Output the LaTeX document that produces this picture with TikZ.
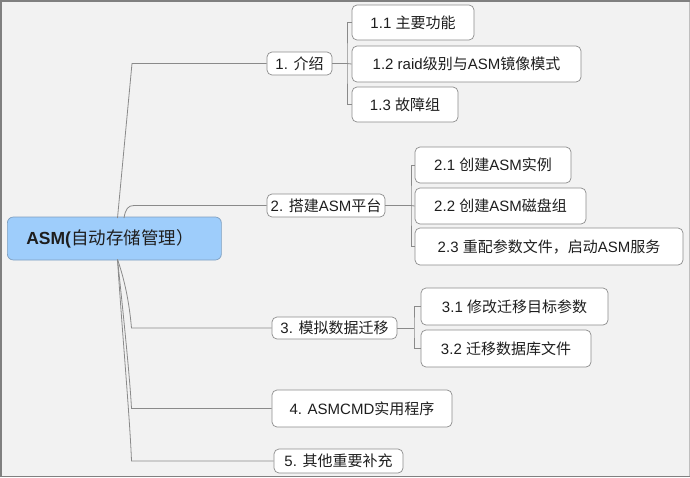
\documentclass[tikz,border=0pt]{standalone}
\usepackage{fontspec}
\setmainfont{Liberation Sans}
\newfontfamily\cjkfont{Noto Sans CJK SC}
\newcommand{\zhs}[1]{{\cjkfont #1}}
\definecolor{bgc}{HTML}{F2F2F2}
\definecolor{linec}{HTML}{8A8A8A}
\definecolor{boxc}{HTML}{8C8C8C}
\definecolor{rootfill}{HTML}{9ECDFB}
\definecolor{rootdraw}{HTML}{7F9FBF}
\definecolor{txt}{HTML}{1E1E1E}
\begin{document}
\begin{tikzpicture}[x=1pt,y=-1pt,
  conn/.style={draw=linec, line width=0.8pt},
  topic/.style={draw=boxc, fill=white, rounded corners=5pt, inner sep=0pt, align=center,
    text=txt, font=\fontsize{15pt}{18pt}\selectfont, line width=0.7pt},
  rootbox/.style={draw=rootdraw, fill=rootfill, rounded corners=6pt, inner xsep=19pt, inner ysep=0pt,
    text width=176pt, align=left, minimum height=43pt, text=txt, line width=0.7pt,
    font=\fontsize{17.5pt}{20pt}\selectfont}]
% background and frame
\fill[bgc] (0,0) rectangle (690,477);
\useasboundingbox (0,0) rectangle (690,477);
\draw[draw=black!25, line width=1.2pt] (689.4,0) -- (689.4,477);
\draw[draw=black!50, line width=1.5pt] (0.75,477) -- (0.75,0.75) -- (690,0.75);
\draw[draw=black!50, line width=1.2pt] (0,476.4) -- (690,476.4);

% root
\node[rootbox, anchor=west] (root) at (7,238.5) {\textbf{ASM(}\zhs{自动存储管理）}};

% main topics
\node[topic, minimum width=65pt, minimum height=23pt] (n1) at (299.5,63.5) {1. \zhs{介绍}};
\node[topic, minimum width=118pt, minimum height=23pt] (n2) at (326,205.5) {2. \zhs{搭建}ASM\zhs{平台}};
\node[topic, minimum width=125pt, minimum height=22pt] (n3) at (334.5,328) {3. \zhs{模拟数据迁移}};
\node[topic, minimum width=180pt, minimum height=37pt] (n4) at (362,408.5) {4. ASMCMD\zhs{实用程序}};
\node[topic, minimum width=129pt, minimum height=24pt] (n5) at (338.5,461) {5. \zhs{其他重要补充}};

% subtopics
\node[topic, minimum width=122pt, minimum height=35pt] (n11) at (413,22.5) {1.1 \zhs{主要功能}};
\node[topic, minimum width=229pt, minimum height=36pt] (n12) at (466.5,64) {1.2 raid\zhs{级别与}ASM\zhs{镜像模式}};
\node[topic, minimum width=106pt, minimum height=35pt] (n13) at (405,104.5) {1.3 \zhs{故障组}};
\node[topic, minimum width=156pt, minimum height=36pt] (n21) at (493,165) {2.1 \zhs{创建}ASM\zhs{实例}};
\node[topic, minimum width=171pt, minimum height=36pt] (n22) at (500.5,206) {2.2 \zhs{创建}ASM\zhs{磁盘组}};
\node[topic, minimum width=268pt, minimum height=37pt] (n23) at (549,246.5) {2.3 \zhs{重配参数文件，启动}ASM\zhs{服务}};
\node[topic, minimum width=187pt, minimum height=37pt] (n31) at (514.5,306.5) {3.1 \zhs{修改迁移目标参数}};
\node[topic, minimum width=170pt, minimum height=37pt] (n32) at (506,348.5) {3.2 \zhs{迁移数据库文件}};

% root connectors
\coordinate (rt) at (117.5,218);
\coordinate (rt2) at (124,218);
\coordinate (rb) at (117.5,259.5);
\coordinate (k1) at (132,63.5);
\coordinate (k2) at (134,205.5);
\coordinate (k3) at (131.5,328);
\coordinate (k4) at (131.5,408.5);
\coordinate (k5) at (131.5,461);
\draw[conn] (rt) -- (k1) -- (n1.west);
\draw[conn] (rt2) .. controls (125.5,209) and (128,205.5) .. (k2) -- (n2.west);
\draw[conn] (rb) .. controls (124,278) and (129,300) .. (k3) -- (n3.west);
\draw[conn] (rb) .. controls (124,320) and (130,380) .. (k4) -- (n4.west);
\draw[conn] (rb) .. controls (122,330) and (130,420) .. (k5) -- (n5.west);

% brackets
\coordinate (b1) at (347,63.5);
\draw[conn] (n1.east) -- (b1);
\draw[conn] (n11.west) -| (b1) |- (n13.west);
\draw[conn] (b1) -- (n12.west);
\coordinate (b2) at (411,205.5);
\draw[conn] (n2.east) -- (b2);
\draw[conn] (n21.west) -| (b2) |- (n23.west);
\draw[conn] (b2) -- (n22.west);
\coordinate (b3) at (414,328);
\draw[conn] (n3.east) -- (b3);
\draw[conn] (n31.west) -| (b3) |- (n32.west);
\end{tikzpicture}
\end{document}
